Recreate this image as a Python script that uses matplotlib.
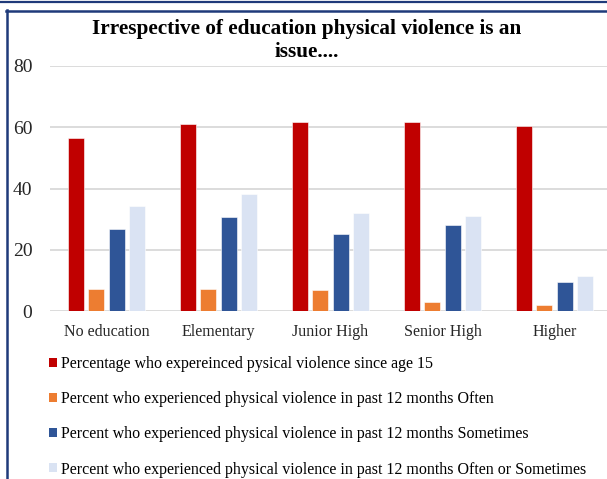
import matplotlib.pyplot as plt
import numpy as np
from matplotlib.lines import Line2D
from matplotlib.patches import Patch

# data
categories = ['No education', 'Elementary', 'Junior High', 'Senior High', 'Higher']
since_15 = [56.5, 61.2, 61.6, 61.8, 60.5]
often = [7.3, 7.2, 6.9, 2.8, 1.9]
sometimes = [26.7, 30.7, 25.0, 28.0, 9.6]
often_or_sometimes = [34.3, 38.2, 31.9, 30.9, 11.4]

labels = ['Percentage who expereinced pysical violence since age 15',
          'Percent who experienced physical violence in past 12 months Often',
          'Percent who experienced physical violence in past 12 months Sometimes',
          'Percent who experienced physical violence in past 12 months Often or Sometimes']
colors = ['#C00000', '#ED7D31', '#2F5597', '#DAE3F3']
yticks = [0, 20, 40, 60, 80]

plt.rcParams['font.family'] = ['Liberation Serif', 'DejaVu Serif']

W, H = 607, 479
fig = plt.figure(figsize=(W / 100, H / 100), dpi=100)

# axes placed in pixel terms (plot runs past the right edge, as in the crop)
left, right, y0, y80 = 50.5, 610.5, 311, 66
ax = fig.add_axes([left / W, (H - y0) / H, (right - left) / W, (y0 - y80) / H])

x = np.arange(len(categories))
series = [since_15, often, sometimes, often_or_sometimes]
offsets = [-0.2745, -0.0915, 0.0915, 0.2745]
for vals, off, c in zip(series, offsets, colors):
    ax.bar(x + off, vals, width=0.143, color=c, edgecolor='white', linewidth=0.4, zorder=3)

ax.set_xlim(-0.5, 4.5)
ax.set_ylim(0, 80)
ax.set_yticks(yticks)
ax.set_xticks(x)
ax.set_xticklabels(categories, fontsize=11.5, color='#262626')
ax.tick_params(axis='y', length=0, pad=13, labelsize=14, labelcolor='#262626')
ax.tick_params(axis='x', length=0, pad=9.5)
ax.grid(axis='y', color='#D9D9D9', linewidth=1.3, zorder=0)
for s in ax.spines.values():
    s.set_visible(False)

fig.text(307 / W, 1 - 40.5 / H, 'Irrespective of education physical violence is an\nissue....',
         ha='center', va='center', fontsize=15.3, fontweight='bold', linespacing=1.17)

handles = [Patch(facecolor=c, edgecolor='none') for c in colors]
fig.legend(handles, labels, loc='upper left', bbox_to_anchor=(49 / W, 1 - 356 / H),
           frameon=False, fontsize=11.5, handlelength=0.5, handleheight=0.5,
           handletextpad=0.25, labelspacing=1.2, borderpad=0, borderaxespad=0)

# navy frame lines of the original slide crop
navy = '#1F3A7A'
fig.add_artist(Line2D([0, 1], [1 - 1.5 / H, 1 - 1.5 / H], color=navy, lw=1.6))
fig.add_artist(Line2D([6 / W, 1], [1 - 10.5 / H, 1 - 10.5 / H], color=navy, lw=1.8))
fig.add_artist(Line2D([7 / W, 7 / W], [0, 1 - 10 / H], color=navy, lw=1.8))

fig.savefig('out.png', dpi=100)
